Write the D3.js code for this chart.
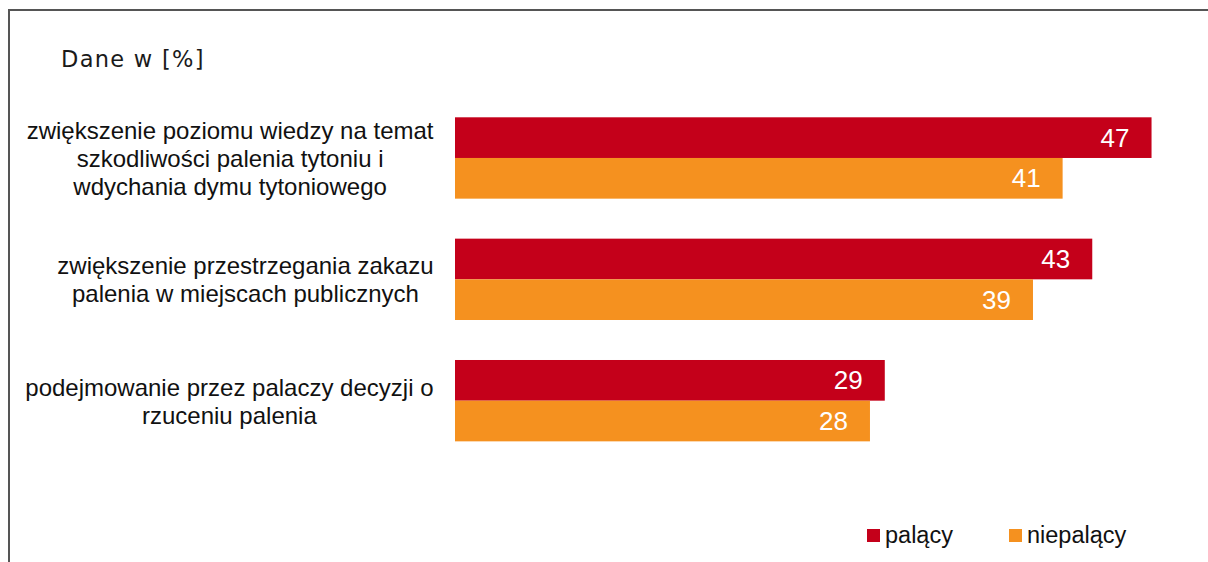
<!DOCTYPE html>
<html>
<head>
<meta charset="utf-8">
<script src="https://cdn.jsdelivr.net/npm/d3@7"></script>
<style>
  html, body { margin: 0; padding: 0; background: #fff; }
  svg { display: block; }
</style>
</head>
<body>
<svg id="chart" width="1208" height="562"></svg>
<script>
// Categories (each label split into its display lines)
const categories = [
  "zwiększenie poziomu wiedzy na temat szkodliwości palenia tytoniu i wdychania dymu tytoniowego",
  "zwiększenie przestrzegania zakazu palenia w miejscach publicznych",
  "podejmowanie przez palaczy decyzji o rzuceniu palenia"
];
const categoryLines = [
  ["zwiększenie poziomu wiedzy na temat", "szkodliwości palenia tytoniu i", "wdychania dymu tytoniowego"],
  ["zwiększenie przestrzegania zakazu", "palenia w miejscach publicznych"],
  ["podejmowanie przez palaczy decyzji o", "rzuceniu palenia"]
];
const seriesNames = ["palący", "niepalący"];
const palacy = [47, 43, 29];
const niepalacy = [41, 39, 28];
const seriesColors = ["#C4001A", "#F5911F"];
const unitLabel = "Dane w [%]";

const svg = d3.select("#chart");

// Frame
svg.append("line").attr("x1", 9).attr("x2", 1208).attr("y1", 10).attr("y2", 10)
  .attr("stroke", "#555").attr("stroke-width", 2);
svg.append("line").attr("x1", 9).attr("x2", 9).attr("y1", 9).attr("y2", 562)
  .attr("stroke", "#555").attr("stroke-width", 2);

// Unit caption
svg.append("text")
  .attr("x", 61).attr("y", 67)
  .attr("font-family", "'DejaVu Sans', Verdana, sans-serif")
  .attr("font-size", 22.5)
  .attr("letter-spacing", 1.3)
  .attr("fill", "#1a1a1a")
  .text(unitLabel);

// Scales
const x = d3.scaleLinear().domain([0, 50]).range([455, 1196]);
const y = d3.scaleBand().domain(categories).range([117.3, 441.35])
  .paddingInner(0.3296).paddingOuter(0);
const ySub = d3.scaleBand().domain(seriesNames).range([0, y.bandwidth()]).padding(0);

const rows = categories.map((c, i) => ({
  cat: c,
  lines: categoryLines[i],
  values: [
    { name: seriesNames[0], value: palacy[i], color: seriesColors[0] },
    { name: seriesNames[1], value: niepalacy[i], color: seriesColors[1] }
  ]
}));

const groups = svg.selectAll("g.group").data(rows).enter().append("g")
  .attr("class", "group")
  .attr("transform", d => `translate(0,${y(d.cat)})`);

groups.selectAll("rect").data(d => d.values).enter().append("rect")
  .attr("x", x(0))
  .attr("y", d => ySub(d.name))
  .attr("width", d => x(d.value) - x(0))
  .attr("height", ySub.bandwidth())
  .attr("fill", d => d.color);

groups.selectAll("text.val").data(d => d.values).enter().append("text")
  .attr("class", "val")
  .attr("x", d => x(d.value) - 22)
  .attr("y", d => ySub(d.name) + ySub.bandwidth() / 2 + 9)
  .attr("text-anchor", "end")
  .attr("font-family", "'Liberation Sans', Arial, sans-serif")
  .attr("font-size", 26)
  .attr("fill", "#fff")
  .text(d => d.value);

// Category labels: lines centred within a block right-aligned to the label edge
const lineH = 28;
const labelRight = 433.5;
groups.each(function (d) {
  const g = d3.select(this);
  const cy = y.bandwidth() / 2;
  const n = d.lines.length;
  const t = g.append("text")
    .attr("text-anchor", "middle")
    .attr("font-family", "'Liberation Sans', Arial, sans-serif")
    .attr("font-size", 24)
    .attr("fill", "#111");
  const spans = d.lines.map((ln, i) => t.append("tspan")
    .attr("y", cy + (i - (n - 1) / 2) * lineH + 9)
    .text(ln));
  const maxW = d3.max(spans, s => s.node().getComputedTextLength());
  spans.forEach(s => s.attr("x", labelRight - maxW / 2));
});

// Legend
const legendX = [867, 1009];
const legend = svg.selectAll("g.legend").data(seriesNames).enter().append("g")
  .attr("class", "legend")
  .attr("transform", (d, i) => `translate(${legendX[i]},529)`);
legend.append("rect").attr("width", 13).attr("height", 13)
  .attr("fill", (d, i) => seriesColors[i]);
legend.append("text").attr("x", 18).attr("y", 14)
  .attr("font-family", "'Liberation Sans', Arial, sans-serif")
  .attr("font-size", 23.5)
  .attr("fill", "#111")
  .text(d => d);
</script>
</body>
</html>
